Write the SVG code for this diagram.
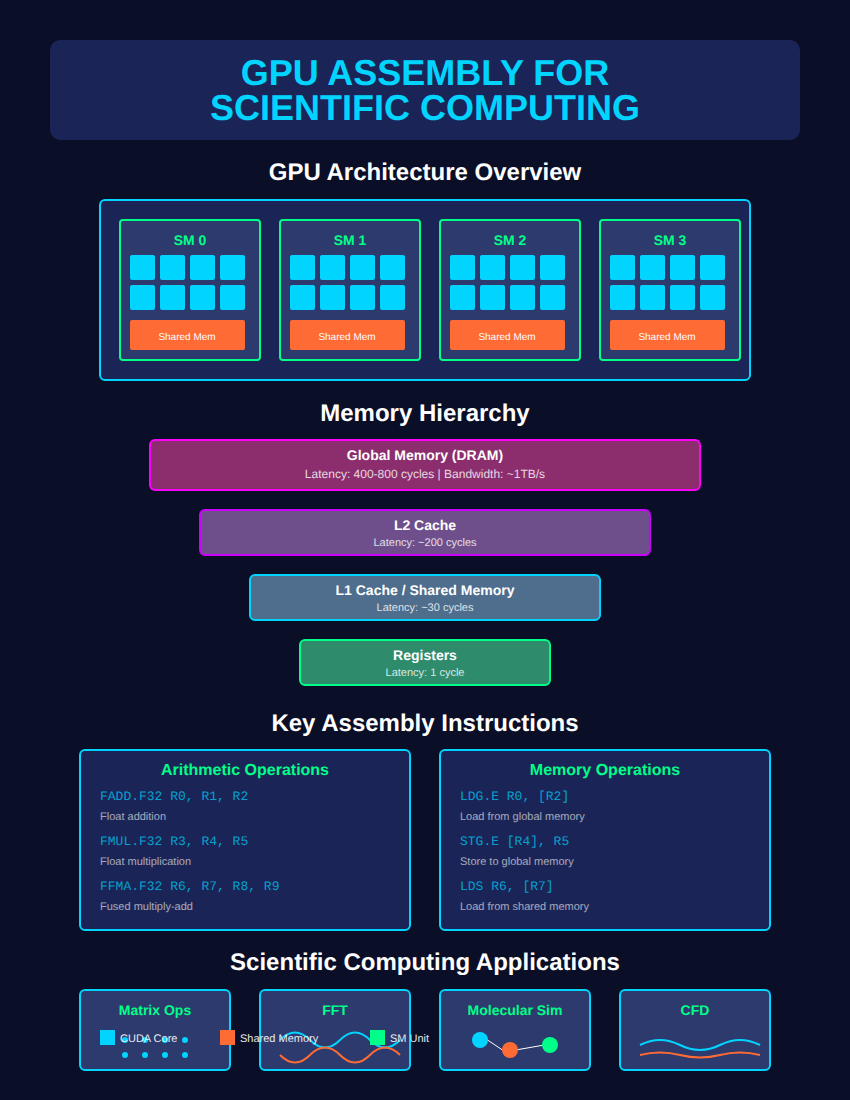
<svg xmlns="http://www.w3.org/2000/svg" width="850" height="1100" viewBox="0 0 850 1100">
<style>
text{font-family:"Liberation Sans",Arial,sans-serif;text-anchor:middle;text-rendering:geometricPrecision;opacity:.999}
.title{font-size:36px;font-weight:bold;fill:#00d4ff}
.h{font-size:24px;font-weight:bold;fill:#fff}
.sm{fill:#2d3a6e;stroke:#00ff88;stroke-width:2}
.smt{font-size:14px;font-weight:bold;fill:#00ff88}
.core{fill:#00d4ff}
.shared{fill:#ff6b35}
.st{font-size:10px;fill:#fff}
.mt{font-size:14px;font-weight:bold;fill:#fff}
.ms{font-size:11px;fill:#fff;opacity:.8}
.ms0{font-size:12px;fill:#fff;opacity:.8}
.panel{fill:#1a2456;stroke:#00d4ff;stroke-width:2}
.pt{font-size:16px;font-weight:bold;fill:#00ff88}
.code{font-family:"Liberation Mono","Courier New",monospace;font-size:13px;fill:#00d4ff;opacity:.7;text-anchor:start}
.desc{font-size:11px;fill:#fff;opacity:.6;text-anchor:start}
.app{fill:#2d3a6e;stroke:#00d4ff;stroke-width:2}
.at{font-size:14px;font-weight:bold;fill:#00ff88}
.dot{fill:#00d4ff}
.w1{fill:none;stroke:#00d4ff;stroke-width:2}
.w2{fill:none;stroke:#ff6b35;stroke-width:2}
.bond{stroke:#fff;stroke-width:1}
.lg{font-size:11px;fill:#fff;opacity:.9;text-anchor:start}
</style>
<defs>
<g id="smbody">
<rect class="sm" x="0" y="0" width="140" height="140" rx="3"/>
<g class="core">
<rect x="10" y="35" width="25" height="25" rx="2"/><rect x="40" y="35" width="25" height="25" rx="2"/><rect x="70" y="35" width="25" height="25" rx="2"/><rect x="100" y="35" width="25" height="25" rx="2"/>
<rect x="10" y="65" width="25" height="25" rx="2"/><rect x="40" y="65" width="25" height="25" rx="2"/><rect x="70" y="65" width="25" height="25" rx="2"/><rect x="100" y="65" width="25" height="25" rx="2"/>
</g>
<rect class="shared" x="10" y="100" width="115" height="30" rx="2"/>
<text class="st" x="67" y="120">Shared Mem</text>
</g>
</defs>
<rect id="background" width="850" height="1100" fill="#0a0e27"/>
<g id="header">
<rect x="50" y="40" width="750" height="100" rx="10" fill="#1a2456"/>
<text class="title" x="425" y="85">GPU ASSEMBLY FOR</text>
<text class="title" x="425" y="120">SCIENTIFIC COMPUTING</text>
</g>
<text class="h" x="425" y="180">GPU Architecture Overview</text>
<g id="gpu-architecture">
<rect x="100" y="200" width="650" height="180" rx="5" fill="#1a2456" stroke="#00d4ff" stroke-width="2"/>
<g id="sm0" transform="translate(120 220)"><use href="#smbody"/><text class="smt" x="70" y="25">SM 0</text></g>
<g id="sm1" transform="translate(280 220)"><use href="#smbody"/><text class="smt" x="70" y="25">SM 1</text></g>
<g id="sm2" transform="translate(440 220)"><use href="#smbody"/><text class="smt" x="70" y="25">SM 2</text></g>
<g id="sm3" transform="translate(600 220)"><use href="#smbody"/><text class="smt" x="70" y="25">SM 3</text></g>
</g>
<text class="h" x="425" y="421">Memory Hierarchy</text>
<g id="mem-global"><rect x="150" y="440" width="550" height="50" rx="5" fill="#8c2e6d" stroke="#ff00ff" stroke-width="2"/><text class="mt" x="425" y="460">Global Memory (DRAM)</text><text class="ms0" x="425" y="478">Latency: 400-800 cycles | Bandwidth: ~1TB/s</text></g>
<g id="mem-l2"><rect x="200" y="510" width="450" height="45" rx="5" fill="#6f4f8b" stroke="#cc00ff" stroke-width="2"/><text class="mt" x="425" y="530">L2 Cache</text><text class="ms" x="425" y="546">Latency: ~200 cycles</text></g>
<g id="mem-l1"><rect x="250" y="575" width="350" height="45" rx="5" fill="#4f6e8d" stroke="#00d4ff" stroke-width="2"/><text class="mt" x="425" y="595">L1 Cache / Shared Memory</text><text class="ms" x="425" y="611">Latency: ~30 cycles</text></g>
<g id="mem-registers"><rect x="300" y="640" width="250" height="45" rx="5" fill="#2e8c6d" stroke="#00ff88" stroke-width="2"/><text class="mt" x="425" y="660">Registers</text><text class="ms" x="425" y="676">Latency: 1 cycle</text></g>
<text class="h" x="425" y="731">Key Assembly Instructions</text>
<g id="arith">
<rect class="panel" x="80" y="750" width="330" height="180" rx="5"/>
<text class="pt" x="245" y="775">Arithmetic Operations</text>
<text class="code" x="100" y="800">FADD.F32 R0, R1, R2</text><text class="desc" x="100" y="820">Float addition</text>
<text class="code" x="100" y="845">FMUL.F32 R3, R4, R5</text><text class="desc" x="100" y="865">Float multiplication</text>
<text class="code" x="100" y="890">FFMA.F32 R6, R7, R8, R9</text><text class="desc" x="100" y="910">Fused multiply-add</text>
</g>
<g id="memops">
<rect class="panel" x="440" y="750" width="330" height="180" rx="5"/>
<text class="pt" x="605" y="775">Memory Operations</text>
<text class="code" x="460" y="800">LDG.E R0, [R2]</text><text class="desc" x="460" y="820">Load from global memory</text>
<text class="code" x="460" y="845">STG.E [R4], R5</text><text class="desc" x="460" y="865">Store to global memory</text>
<text class="code" x="460" y="890">LDS R6, [R7]</text><text class="desc" x="460" y="910">Load from shared memory</text>
</g>
<text class="h" x="425" y="970">Scientific Computing Applications</text>
<g id="app-matrix">
<rect class="app" x="80" y="990" width="150" height="80" rx="5"/>
<text class="at" x="155" y="1015">Matrix Ops</text>
<g class="dot"><circle cx="125" cy="1040" r="3"/><circle cx="145" cy="1040" r="3"/><circle cx="165" cy="1040" r="3"/><circle cx="185" cy="1040" r="3"/><circle cx="125" cy="1055" r="3"/><circle cx="145" cy="1055" r="3"/><circle cx="165" cy="1055" r="3"/><circle cx="185" cy="1055" r="3"/></g>
</g>
<g id="app-fft">
<rect class="app" x="260" y="990" width="150" height="80" rx="5"/>
<text class="at" x="335" y="1015">FFT</text>
<path class="w1" d="M280 1040Q295 1025 310 1040T340 1040T370 1040T400 1040"/>
<path class="w2" d="M280 1055Q295 1070 310 1055T340 1055T370 1055T400 1055"/>
</g>
<g id="app-mol">
<rect class="app" x="440" y="990" width="150" height="80" rx="5"/>
<text class="at" x="515" y="1015">Molecular Sim</text>
<line class="bond" x1="480" y1="1035" x2="510" y2="1055"/><line class="bond" x1="510" y1="1051" x2="550" y2="1044"/>
<circle cx="480" cy="1040" r="8" fill="#00d4ff"/><circle cx="510" cy="1050" r="8" fill="#ff6b35"/><circle cx="550" cy="1045" r="8" fill="#00ff88"/>
</g>
<g id="app-cfd">
<rect class="app" x="620" y="990" width="150" height="80" rx="5"/>
<text class="at" x="695" y="1015">CFD</text>
<path class="w1" d="M640 1045Q660 1035 680 1045T720 1045T760 1045"/>
<path class="w2" d="M640 1055Q660 1050 680 1055T720 1055T760 1055"/>
</g>
<g id="legend">
<rect x="100" y="1030" width="15" height="15" fill="#00d4ff"/><text class="lg" x="120" y="1042">CUDA Core</text>
<rect x="220" y="1030" width="15" height="15" fill="#ff6b35"/><text class="lg" x="240" y="1042">Shared Memory</text>
<rect x="370" y="1030" width="15" height="15" fill="#00ff88"/><text class="lg" x="390" y="1042">SM Unit</text>
</g>
</svg>
